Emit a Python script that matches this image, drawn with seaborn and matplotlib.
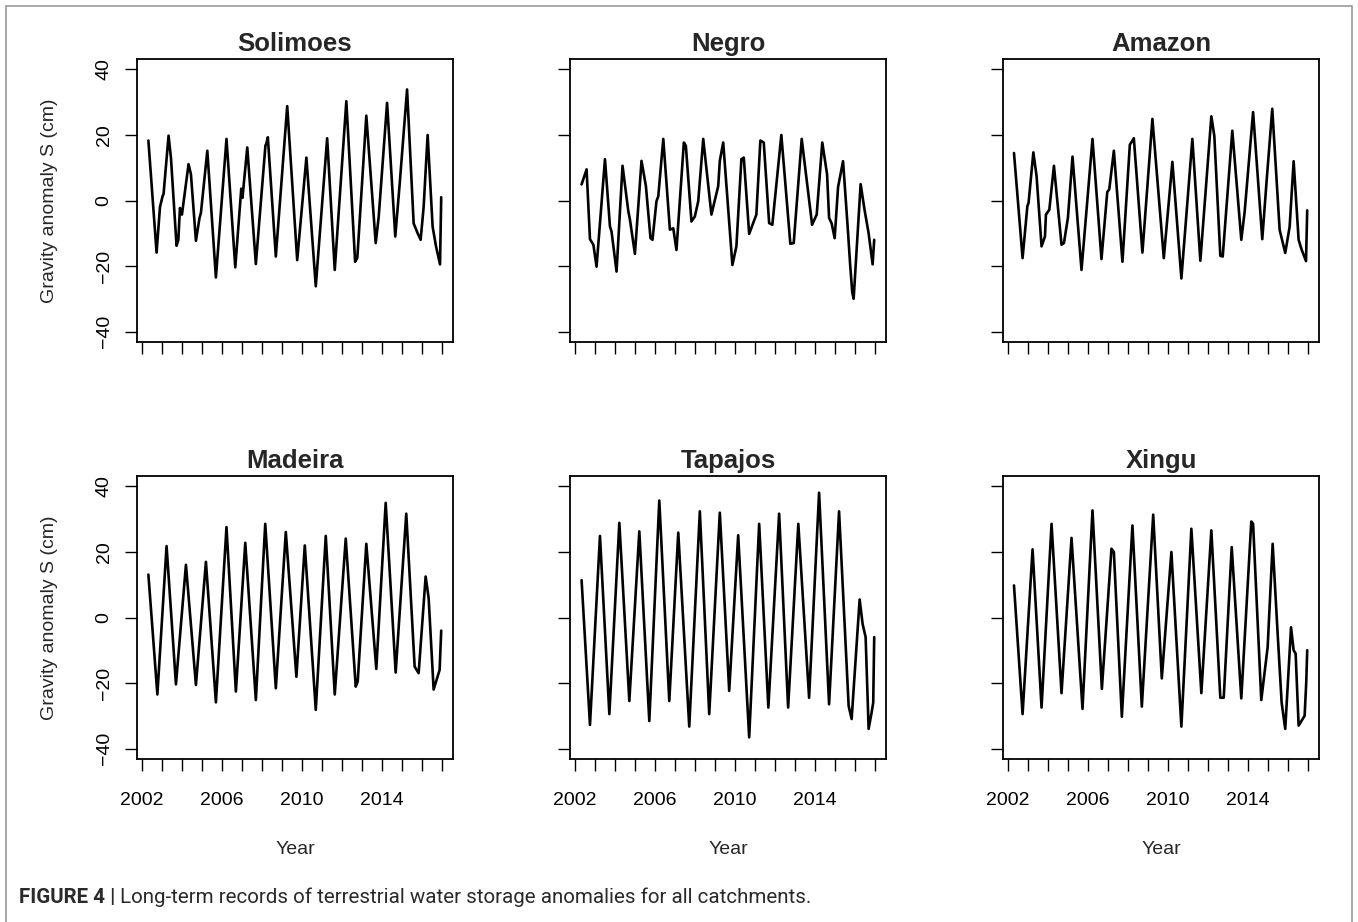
import matplotlib
matplotlib.use("Agg")
import matplotlib.pyplot as plt
import seaborn as sns
import pandas as pd
from matplotlib.patches import Rectangle
from matplotlib import font_manager

# ---- terrestrial water storage anomalies (cm), time in decimal years ----
solimoes_t = [2002.32, 2002.73, 2002.90, 2003.03, 2003.08, 2003.33, 2003.45, 2003.73, 2003.82,
              2003.90, 2004.00, 2004.33, 2004.45, 2004.70, 2004.88, 2004.95, 2005.27, 2005.70,
              2006.23, 2006.67, 2006.97, 2007.03, 2007.27, 2007.70, 2008.18, 2008.22, 2008.30,
              2008.70, 2009.27, 2009.77, 2010.23, 2010.70, 2011.27, 2011.65, 2012.23, 2012.67,
              2012.78, 2013.23, 2013.70, 2013.85, 2014.27, 2014.68, 2014.90, 2015.27, 2015.60,
              2015.80, 2015.95, 2016.10, 2016.30, 2016.55, 2016.72, 2016.92, 2016.98]
solimoes_s = [18.3, -15.9, -2.0, 1.3, 2.0, 19.8, 13.0, -13.8, -12.0,
              -2.3, -4.3, 11.1, 8.0, -12.3, -5.3, -3.8, 15.2, -23.5,
              18.8, -20.4, 3.6, 0.8, 16.2, -19.4, 16.8, 17.3, 19.3,
              -17.1, 28.8, -18.2, 13.1, -26.2, 19.0, -21.2, 30.3, -18.7,
              -17.5, 25.9, -13.0, -5.0, 29.8, -11.0, 5.0, 33.9, -7.0,
              -10.0, -12.0, -2.0, 20.0, -8.0, -14.0, -19.5, 1.0]

negro_t = [2002.33, 2002.58, 2002.75, 2002.92, 2003.08, 2003.50, 2003.75, 2003.83, 2004.08,
           2004.38, 2004.67, 2004.75, 2005.00, 2005.33, 2005.55, 2005.78, 2005.88, 2006.08,
           2006.17, 2006.42, 2006.75, 2006.92, 2007.08, 2007.45, 2007.55, 2007.83, 2008.00,
           2008.17, 2008.42, 2008.83, 2009.17, 2009.25, 2009.42, 2009.88, 2010.08, 2010.33,
           2010.45, 2010.72, 2010.92, 2011.08, 2011.28, 2011.45, 2011.72, 2011.88, 2012.33,
           2012.78, 2012.95, 2013.35, 2013.87, 2014.10, 2014.38, 2014.62, 2014.72, 2014.85,
           2015.00, 2015.17, 2015.42, 2015.65, 2015.78, 2015.88, 2015.95, 2016.30, 2016.50,
           2016.70, 2016.90, 2016.98]
negro_s = [4.9, 9.5, -11.8, -13.5, -20.2, 12.6, -7.9, -9.5, -21.7,
           10.6, -3.3, -5.8, -16.3, 12.1, 4.4, -11.5, -12.0, -0.2,
           1.3, 18.8, -8.9, -8.5, -15.1, 17.7, 16.7, -6.4, -4.9,
           -0.2, 18.8, -4.3, 4.4, 12.1, 17.7, -19.7, -14.0, 12.6,
           13.1, -10.2, -6.9, -4.3, 18.3, 17.7, -6.9, -7.4, 20.0,
           -13.2, -13.0, 18.8, -7.4, -4.3, 17.7, 8.0, -5.3, -7.0,
           -11.5, 4.1, 12.0, -8.0, -20.0, -28.0, -30.0, 5.0, -3.0,
           -10.0, -19.5, -12.0]

amazon_t = [2002.30, 2002.73, 2002.97, 2003.03, 2003.27, 2003.43, 2003.68, 2003.85, 2003.90,
            2004.07, 2004.30, 2004.68, 2004.80, 2005.00, 2005.23, 2005.68, 2006.23, 2006.68,
            2006.97, 2007.07, 2007.30, 2007.73, 2008.10, 2008.30, 2008.73, 2009.23, 2009.80,
            2010.23, 2010.68, 2011.23, 2011.63, 2012.18, 2012.33, 2012.63, 2012.75, 2013.23,
            2013.68, 2013.85, 2014.27, 2014.73, 2014.95, 2015.23, 2015.60, 2015.88, 2016.10,
            2016.30, 2016.55, 2016.70, 2016.92, 2016.98]
amazon_s = [14.5, -17.6, -1.7, -0.7, 14.7, 7.5, -14.0, -11.0, -4.3,
            -2.8, 10.6, -13.5, -13.0, -5.3, 13.4, -21.2, 18.8, -17.9,
            2.6, 3.4, 15.2, -18.7, 17.0, 19.0, -15.9, 24.9, -17.6,
            11.8, -23.8, 18.8, -18.4, 25.7, 19.7, -16.9, -17.1, 21.3,
            -12.0, -3.3, 27.0, -11.8, 6.2, 28.0, -9.0, -16.0, -8.0,
            12.0, -12.0, -15.0, -18.5, -3.0]

madeira_t = [2002.32, 2002.77, 2003.23, 2003.70, 2004.20, 2004.70, 2005.20, 2005.70, 2006.23,
             2006.70, 2007.17, 2007.70, 2008.17, 2008.70, 2009.20, 2009.73, 2010.15, 2010.70,
             2011.20, 2011.65, 2012.20, 2012.70, 2012.80, 2013.23, 2013.73, 2014.20, 2014.70,
             2015.23, 2015.65, 2015.85, 2016.20, 2016.35, 2016.60, 2016.90, 2016.98]
madeira_s = [13.1, -23.5, 21.8, -20.4, 16.1, -20.6, 17.0, -25.9, 27.6,
             -22.6, 22.8, -25.2, 28.6, -21.6, 26.1, -18.1, 22.0, -28.2,
             24.9, -23.5, 24.1, -21.1, -19.5, 22.5, -15.7, 35.0, -16.8,
             31.7, -15.0, -17.0, 12.5, 6.0, -22.0, -16.0, -4.0]

tapajos_t = [2002.33, 2002.75, 2003.25, 2003.72, 2004.22, 2004.72, 2005.22, 2005.72, 2006.22,
             2006.72, 2007.17, 2007.72, 2008.25, 2008.72, 2009.25, 2009.72, 2010.17, 2010.72,
             2011.22, 2011.68, 2012.22, 2012.67, 2013.18, 2013.72, 2014.22, 2014.72, 2015.22,
             2015.70, 2015.85, 2016.25, 2016.40, 2016.55, 2016.70, 2016.85, 2016.93, 2016.98]
tapajos_s = [11.4, -32.8, 24.9, -29.5, 28.9, -25.5, 26.3, -31.6, 35.7,
             -25.5, 25.9, -33.3, 32.4, -29.5, 32.0, -22.4, 25.1, -36.6,
             28.6, -27.5, 31.7, -27.5, 28.6, -24.5, 38.1, -26.5, 32.4,
             -27.0, -31.0, 5.5, -2.0, -6.0, -34.0, -29.0, -26.0, -6.0]

xingu_t = [2002.30, 2002.73, 2003.23, 2003.68, 2004.18, 2004.68, 2005.18, 2005.73, 2006.23,
           2006.70, 2007.18, 2007.30, 2007.70, 2008.23, 2008.70, 2009.27, 2009.70, 2010.18,
           2010.68, 2011.18, 2011.68, 2012.18, 2012.63, 2012.80, 2013.20, 2013.68, 2014.18,
           2014.27, 2014.68, 2015.00, 2015.25, 2015.50, 2015.70, 2015.88, 2016.17, 2016.30,
           2016.40, 2016.55, 2016.85, 2016.93, 2016.98]
xingu_s = [9.8, -29.5, 20.8, -27.5, 28.6, -23.1, 24.3, -27.9, 32.7,
           -21.8, 21.0, 20.0, -30.3, 28.1, -27.2, 31.4, -18.6, 20.0,
           -33.3, 27.1, -23.1, 26.6, -24.5, -24.5, 21.5, -24.7, 29.3,
           28.6, -25.2, -9.0, 22.5, -5.0, -26.0, -34.0, -3.0, -10.0,
           -11.0, -33.0, -30.0, -20.0, -10.0]

catchments = ["Solimoes", "Negro", "Amazon", "Madeira", "Tapajos", "Xingu"]
series = {
    "Solimoes": (solimoes_t, solimoes_s),
    "Negro": (negro_t, negro_s),
    "Amazon": (amazon_t, amazon_s),
    "Madeira": (madeira_t, madeira_s),
    "Tapajos": (tapajos_t, tapajos_s),
    "Xingu": (xingu_t, xingu_s),
}

year_ticks = list(range(2002, 2018))
year_labels = ["2002", "2006", "2010", "2014"]
s_ticks = [-40, -20, 0, 20, 40]

caption_bold = "FIGURE 4 |"
caption_text = "Long-term records of terrestrial water storage anomalies for all catchments."


def installed(family):
    try:
        font_manager.findfont(font_manager.FontProperties(family=family),
                              fallback_to_default=False)
        return True
    except ValueError:
        return False


caption_family = "Liberation Sans Narrow" if installed("Liberation Sans Narrow") else "Roboto"

sns.set_style("ticks")
plt.rcParams["font.family"] = ["Liberation Sans", "DejaVu Sans"]

W, H = 1358, 922
fig = plt.figure(figsize=(W / 100, H / 100), dpi=100)
fig.patch.set_facecolor("white")

# outer page frame
fig.patches.append(Rectangle((6 / W, -0.05), (1352 - 6) / W, 1.05 - 6 / H,
                             transform=fig.transFigure, fill=False,
                             edgecolor="#9a9a9a", linewidth=1.2))

col_left = [137, 570, 1003]
row_bottom = [342, 759]
pw, ph = 316, 283

for i, name in enumerate(catchments):
    r, c = divmod(i, 3)
    left = col_left[c] / W
    bottom = 1 - row_bottom[r] / H
    ax = fig.add_axes([left, bottom, pw / W, ph / H])
    t, s = series[name]
    df = pd.DataFrame({"Year": t, "S": s})
    sns.lineplot(data=df, x="Year", y="S", ax=ax, color="black",
                 linewidth=1.9, estimator=None)
    ax.set_xlim(2001.75, 2017.57)
    ax.set_ylim(-43.2, 43.2)
    ax.set_xticks(year_ticks)
    ax.set_yticks(s_ticks)
    for sp in ax.spines.values():
        sp.set_visible(True)
        sp.set_linewidth(1.3)
        sp.set_color("black")
    ax.tick_params(axis="both", direction="out", length=8.5, width=1.0,
                   color="black", labelsize=14, labelcolor="black")
    ax.tick_params(axis="x", pad=15)
    # years are labelled on the bottom row only
    if r == 1:
        ax.set_xticklabels([str(y) if str(y) in year_labels else "" for y in year_ticks])
        ax.set_xlabel("Year", fontsize=14)
        ax.xaxis.set_label_coords(0.5, -0.29)
    else:
        ax.set_xticklabels([])
        ax.set_xlabel("")
    if c == 0:
        ax.set_yticklabels([str(v).replace("-", "\u2212") for v in s_ticks])
        ax.tick_params(axis="y", labelrotation=90, pad=9)
        for lbl in ax.get_yticklabels():
            lbl.set_va("center")
        ax.set_ylabel("Gravity anomaly S (cm)", fontsize=14)
        ax.yaxis.set_label_coords(-0.25, 0.5)
    else:
        ax.set_yticklabels([])
        ax.set_ylabel("")
    ax.set_title(name, fontsize=18.5, fontweight="bold", pad=6)

cap_y = 1 - 897 / H
t1 = fig.text(19 / W, cap_y, caption_bold, fontsize=14.8, fontweight="bold",
              family=[caption_family, "Liberation Sans"], color="#2a2a2a",
              va="center", ha="left")
renderer = fig.canvas.get_renderer()
bb = t1.get_window_extent(renderer=renderer)
fig.text((bb.x1 + 5) / W, cap_y, caption_text, fontsize=14.8,
         family=[caption_family, "Liberation Sans"], color="#2a2a2a",
         va="center", ha="left")

fig.savefig("out.png", dpi=100, facecolor="white")
